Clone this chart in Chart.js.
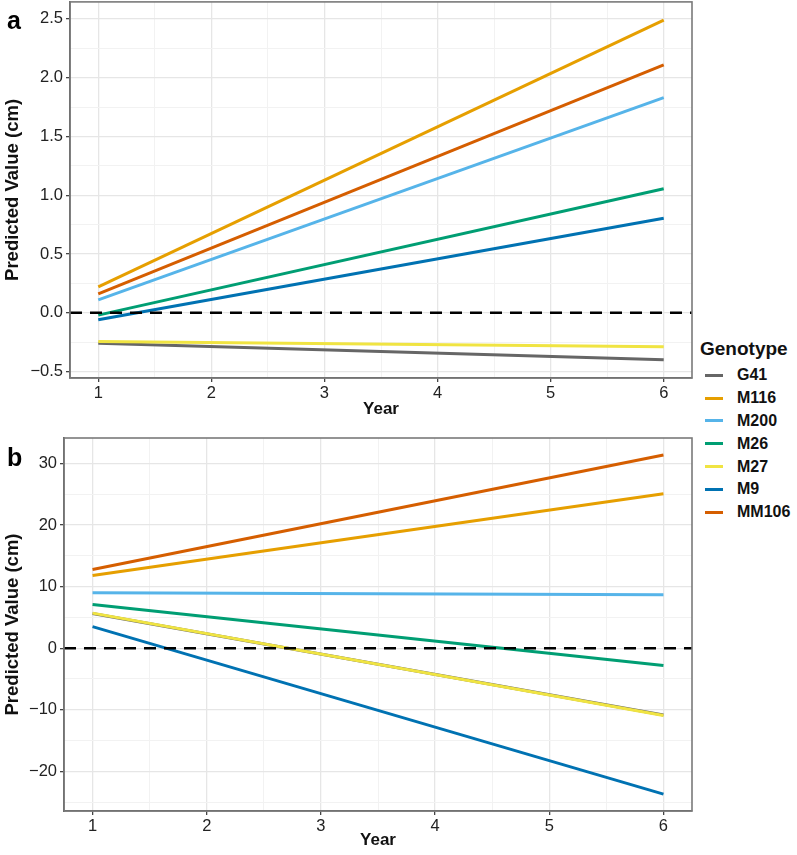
<!DOCTYPE html>
<html>
<head>
<meta charset="utf-8">
<script src="https://cdn.jsdelivr.net/npm/chart.js@4.4.1/dist/chart.umd.min.js"></script>
<style>
    body { margin: 0; background: #fff; font-family: "Liberation Sans", Arial, sans-serif; }
    .wrap { position: relative; width: 797px; height: 855px; overflow: hidden; }
    .panel { position: absolute; left: 0; }
    .panel-a { top: -11px; width: 700px; height: 431px; }
    .panel-b { top: 420px; width: 700px; height: 435px; }
    .tag { position: absolute; left: 7px; font-weight: bold; font-size: 25px; color: #000; }
    .legend { position: absolute; left: 700px; top: 338px; }
    .legend__title { font-weight: bold; font-size: 19px; color: #111; margin-bottom: 4px; }
    .legend__item { display: flex; align-items: center; height: 22.8px; font-weight: bold; font-size: 16px; color: #111; }
    .legend__swatch { width: 18px; height: 3px; margin: 0 14px 0 5px; }
</style>
</head>
<body>
<div class="wrap">
    <div class="panel panel-a"><canvas id="chartA"></canvas></div>
    <div class="panel panel-b"><canvas id="chartB"></canvas></div>
    <div class="tag" style="top: 6px;">a</div>
    <div class="tag" style="top: 443px;">b</div>
    <div class="legend" id="legend"></div>
</div>
<script>
const genotypes = ['G41', 'M116', 'M200', 'M26', 'M27', 'M9', 'MM106'];
const colors = ['#666666', '#E69F00', '#56B4E9', '#009E73', '#F0E442', '#0072B2', '#D55E00'];
const years = [1, 6];

// predicted values at year 1 and year 6
const valuesA = {
    G41: [-0.26, -0.40],
    M116: [0.22, 2.49],
    M200: [0.11, 1.83],
    M26: [-0.02, 1.055],
    M27: [-0.245, -0.29],
    M9: [-0.06, 0.805],
    MM106: [0.16, 2.11],
};
const valuesB = {
    G41: [5.65, -10.85],
    M116: [11.8, 25.1],
    M200: [9.0, 8.7],
    M26: [7.1, -2.8],
    M27: [5.7, -10.95],
    M9: [3.5, -23.7],
    MM106: [12.8, 31.4],
};

const xTicks = [1, 2, 3, 4, 5, 6];
const yTicksA = [-0.5, 0, 0.5, 1.0, 1.5, 2.0, 2.5];
const yTicksB = [-20, -10, 0, 10, 20, 30];

const FONT = '"Liberation Sans", Arial, sans-serif';
const X_MIN = 0.75, X_MAX = 6.25;

const legendEl = document.getElementById('legend');
legendEl.innerHTML = '<div class="legend__title">Genotype</div>' +
    genotypes.map((g, i) =>
        `<div class="legend__item"><span class="legend__swatch" style="background:${colors[i]}"></span>${g}</div>`
    ).join('');

const withMinor = (major, lo, hi) => {
    const out = [];
    const step = major[1] - major[0];
    out.push(major[0] - step / 2);
    major.forEach(v => { out.push(v); out.push(v + step / 2); });
    return out.filter(v => v >= lo && v <= hi);
};

const isMajor = (major, v) => major.some(m => Math.abs(m - v) < 1e-9);

const panelBorder = {
    id: 'panelBorder',
    afterDraw(chart) {
        const { ctx, chartArea: a } = chart;
        ctx.save();
        ctx.strokeStyle = '#7a7a7a';
        ctx.lineWidth = 1.6;
        ctx.strokeRect(a.left, a.top, a.right - a.left, a.bottom - a.top);
        ctx.restore();
    }
};

const gridOpts = (major) => ({
    color: (c) => isMajor(major, c.tick.value) ? '#e6e6e6' : '#f2f2f2',
    lineWidth: (c) => isMajor(major, c.tick.value) ? 1.3 : 1,
    tickColor: (c) => isMajor(major, c.tick.value) ? '#444' : 'rgba(0,0,0,0)',
    tickLength: 4,
});

const makeChart = (id, values, yTicks, yMin, yMax, pad, yWidth, xHeight, titleBottom, fmt) => {
    const datasets = genotypes.map((g, i) => ({
        label: g,
        data: years.map((yr, j) => ({ x: yr, y: values[g][j] })),
        borderColor: colors[i],
        borderWidth: 3,
        pointRadius: 0,
        fill: false,
        order: genotypes.length - i,
    }));
    datasets.push({
        label: 'zero',
        data: [{ x: X_MIN, y: 0 }, { x: X_MAX, y: 0 }],
        borderColor: '#000',
        borderWidth: 2.6,
        borderDash: [12, 8],
        pointRadius: 0,
        order: 0,
    });

    const canvas = document.getElementById(id);
    return new Chart(canvas.getContext('2d'), {
        type: 'line',
        data: { datasets },
        options: {
            responsive: true,
            maintainAspectRatio: false,
            animation: false,
            layout: { padding: pad },
            plugins: { legend: { display: false }, tooltip: { enabled: false } },
            scales: {
                x: {
                    type: 'linear',
                    min: X_MIN,
                    max: X_MAX,
                    afterBuildTicks: (s) => { s.ticks = withMinor(xTicks, X_MIN, X_MAX).map(v => ({ value: v })); },
                    afterFit: (s) => { s.height = xHeight; },
                    ticks: {
                        autoSkip: false,
                        maxRotation: 0,
                        color: '#222',
                        font: { family: FONT, size: 16.5 },
                        padding: 2,
                        callback: (v) => isMajor(xTicks, v) ? String(v) : '',
                    },
                    grid: gridOpts(xTicks),
                    border: { color: '#555', width: 1.6 },
                    title: {
                        display: true,
                        text: 'Year',
                        color: '#111',
                        font: { family: FONT, size: 17, weight: 'bold' },
                        padding: { top: 0, bottom: titleBottom },
                    },
                },
                y: {
                    type: 'linear',
                    min: yMin,
                    max: yMax,
                    afterBuildTicks: (s) => { s.ticks = withMinor(yTicks, yMin, yMax).map(v => ({ value: v })); },
                    afterFit: (s) => { s.width = yWidth; },
                    ticks: {
                        autoSkip: false,
                        color: '#222',
                        font: { family: FONT, size: 16.5 },
                        padding: 3,
                        callback: (v) => isMajor(yTicks, v) ? fmt(v) : '',
                    },
                    grid: gridOpts(yTicks),
                    border: { color: '#555', width: 1.6 },
                    title: {
                        display: true,
                        text: 'Predicted Value (cm)',
                        color: '#111',
                        font: { family: FONT, size: 18.5, weight: 'bold' },
                        padding: { top: 0, bottom: 2 },
                    },
                },
            },
        },
        plugins: [panelBorder],
    });
};

const minus = (s) => s.replace('-', '\u2212');

makeChart('chartA', valuesA, yTicksA, -0.555, 2.645,
    { left: 2, right: 8, top: 0, bottom: 0 }, 68, 42, 0,
    (v) => minus(v.toFixed(1)));

makeChart('chartB', valuesB, yTicksB, -26.45, 34.15,
    { left: 2, right: 8, top: 18, bottom: 0 }, 62, 44, 4,
    (v) => minus(String(v)));
</script>
</body>
</html>
